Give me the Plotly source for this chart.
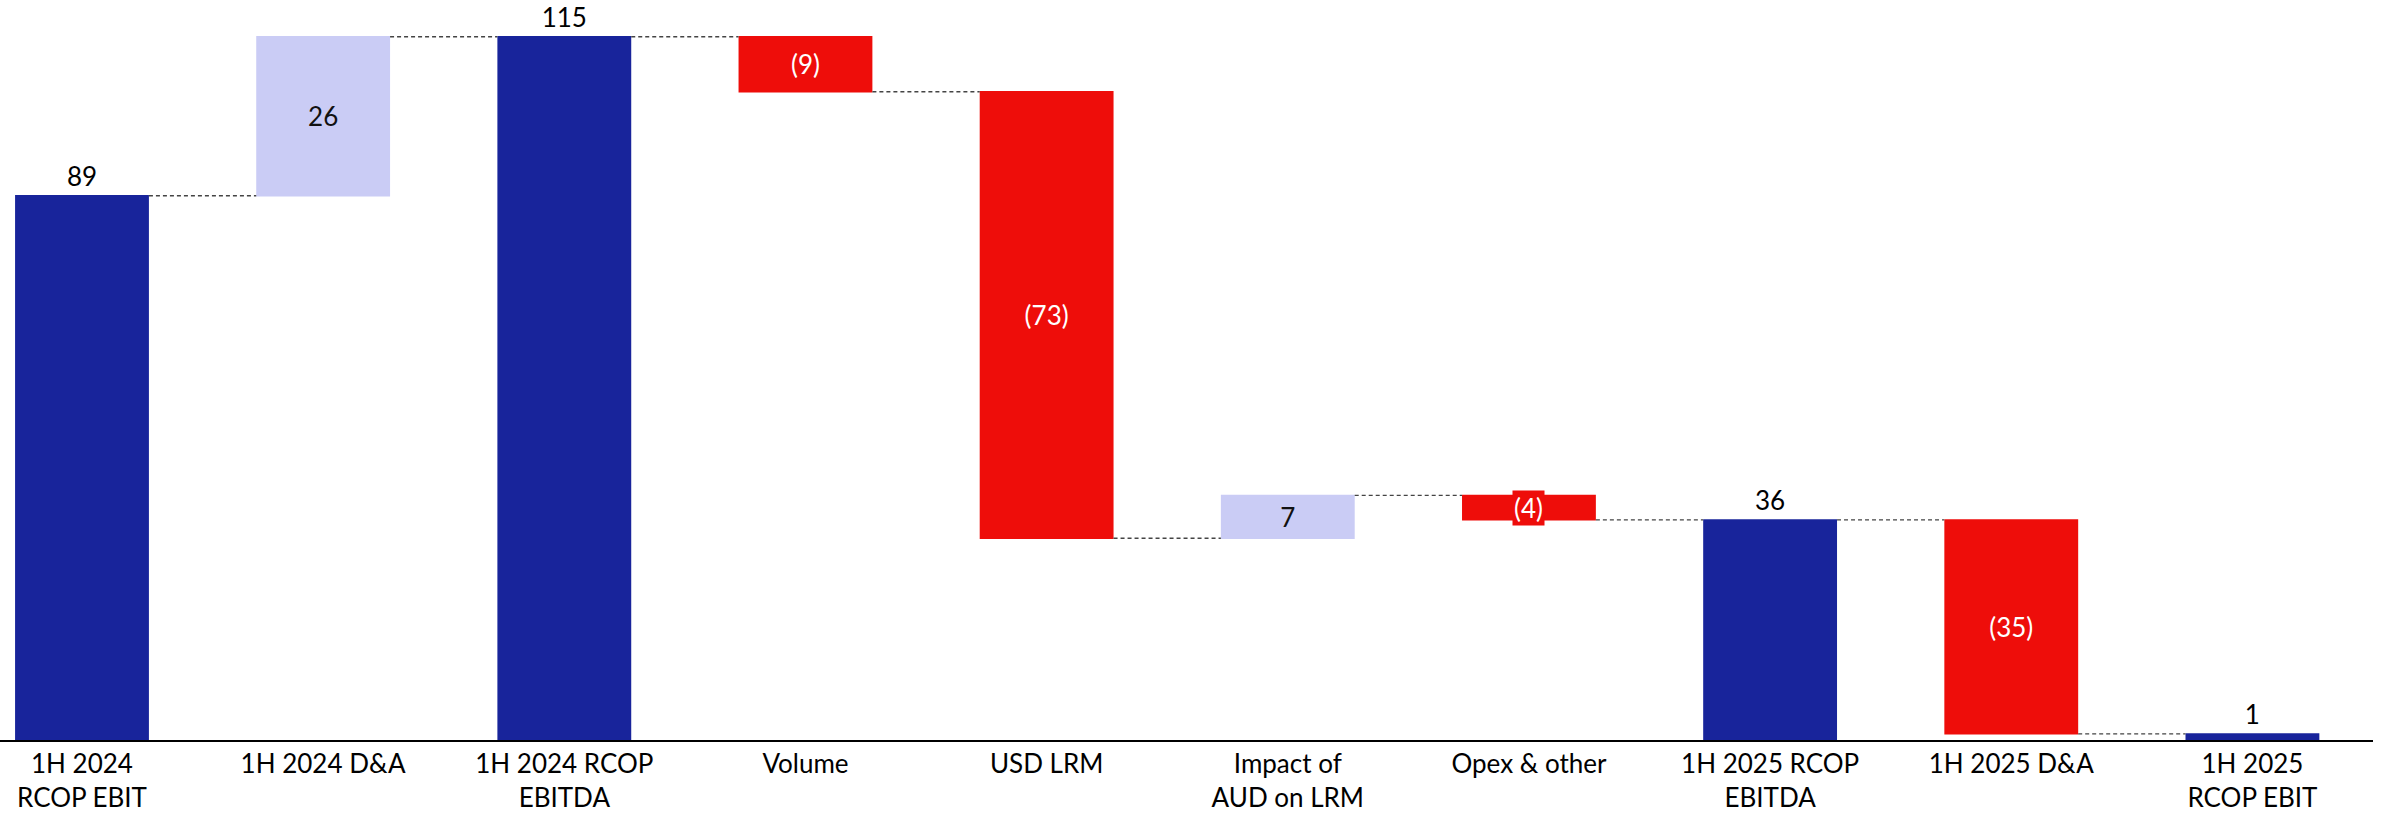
import plotly.graph_objects as go

# waterfall data (A$m)
categories = ["1H 2024<br>RCOP EBIT", "1H 2024 D&A", "1H 2024 RCOP<br>EBITDA", "Volume",
              "USD LRM", "Impact of<br>AUD on LRM", "Opex & other", "1H 2025 RCOP<br>EBITDA",
              "1H 2025 D&A", "1H 2025<br>RCOP EBIT"]
values = [89, 26, 115, -9, -73, 7, -4, 36, -35, 1]
measures = ["absolute", "relative", "total", "relative", "relative", "relative",
            "relative", "total", "relative", "total"]

NAVY = "#18249b"
LAVENDER = "#caccf5"
RED = "#ee0d0a"
FONT = "Lato"
FS = 26

labels = [f"({abs(v)})" if v < 0 else str(v) for v in values]

# small bars get their label as a boxed annotation instead of inside text
small = [i for i, v in enumerate(values) if measures[i] == "relative" and abs(v) < 6]

positions, inside_colors, texts = [], [], []
for i, (m, v) in enumerate(zip(measures, values)):
    if m != "relative":
        positions.append("outside")
        inside_colors.append("black")
        texts.append(labels[i])
    else:
        positions.append("inside")
        inside_colors.append("white" if v < 0 else "#111111")
        texts.append("" if i in small else labels[i])

fig = go.Figure()
fig.add_trace(go.Waterfall(
    x=categories, y=values, measure=measures,
    text=texts, textposition=positions, insidetextanchor="middle",
    constraintext="none", cliponaxis=False,
    insidetextfont=dict(color=inside_colors, size=FS, family=FONT),
    outsidetextfont=dict(color="black", size=FS, family=FONT),
    increasing=dict(marker=dict(color=LAVENDER)),
    decreasing=dict(marker=dict(color=RED)),
    totals=dict(marker=dict(color=NAVY)),
    connector=dict(line=dict(color="#444444", width=1.4, dash="4px,3px")),
    showlegend=False, hoverinfo="skip",
))

# running level to place the boxed labels
level = 0
for i, (m, v) in enumerate(zip(measures, values)):
    if m == "absolute":
        level = v
    elif m == "relative":
        if i in small:
            fig.add_annotation(x=categories[i], y=level + v / 2, text=labels[i],
                               showarrow=False, bgcolor=RED,
                               font=dict(color="white", size=FS, family=FONT))
        level += v

fig.update_layout(
    width=2382, height=814,
    margin=dict(l=0, r=9, t=0, b=74),
    plot_bgcolor="white", paper_bgcolor="white",
    waterfallgap=0.445,
    font=dict(family=FONT, size=FS, color="black"),
    xaxis=dict(range=[-0.34, 9.5], showline=True, linecolor="black", linewidth=1.5,
               showgrid=False, ticks="", tickfont=dict(size=FS, family=FONT, color="black")),
    yaxis=dict(range=[0, 121], visible=False, showgrid=False, zeroline=False),
)

fig.write_html("out.html", config={"displayModeBar": False},
               post_script="document.body.style.margin = '0px';")
